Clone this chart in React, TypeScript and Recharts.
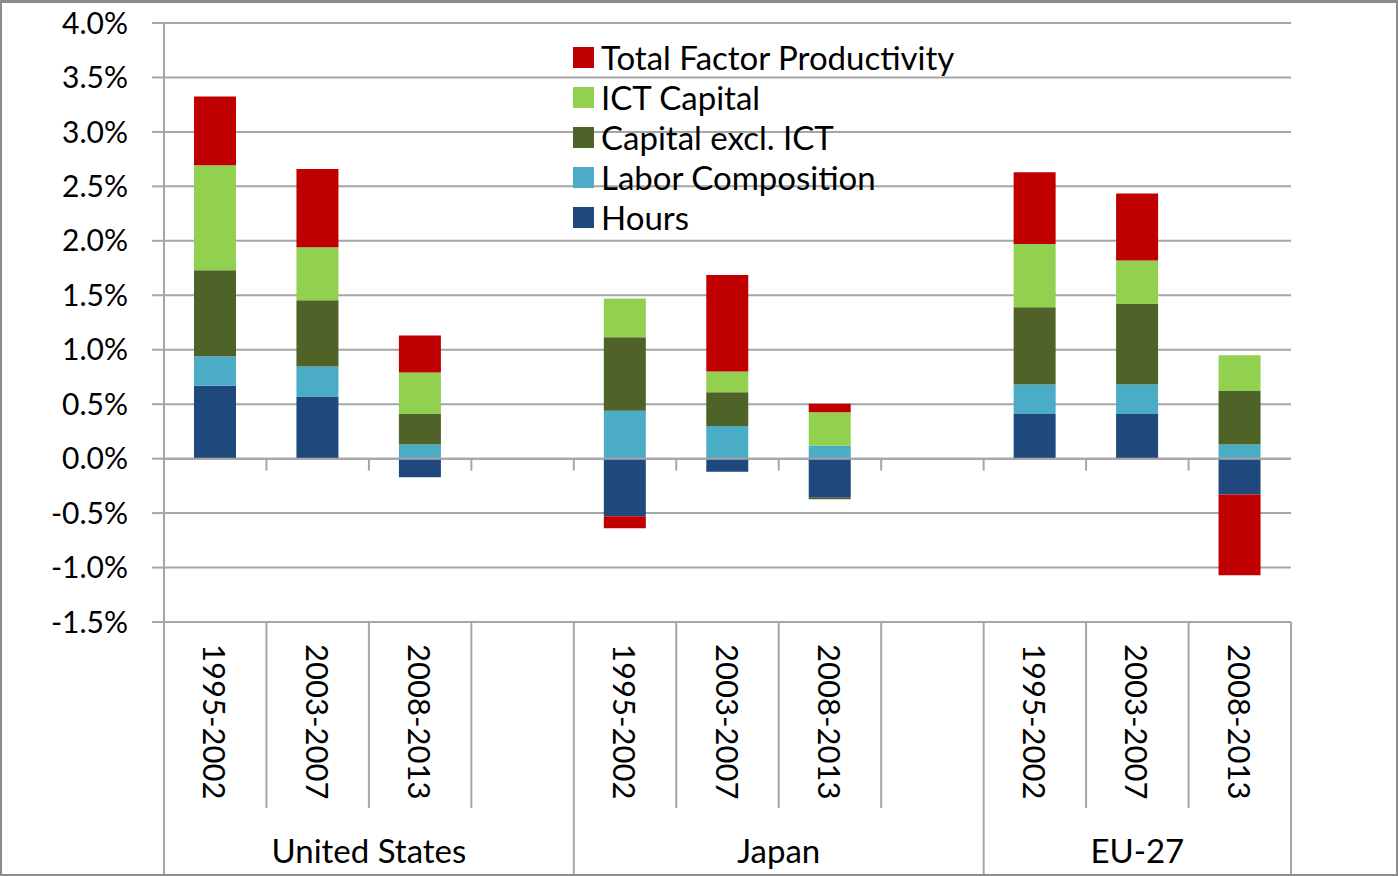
import React from 'react';
import { BarChart, Bar, XAxis, YAxis, CartesianGrid, Legend, ReferenceLine } from 'recharts';

// ---- data ----
const regions = ['United States', 'Japan', 'EU-27'];
const regionSlots = [
  [0, 3],
  [4, 7],
  [8, 10],
];
const periodLabels = [
  '1995-2002', '2003-2007', '2008-2013', '',
  '1995-2002', '2003-2007', '2008-2013', '',
  '1995-2002', '2003-2007', '2008-2013',
];
const hours = [0.67, 0.57, -0.17, null, -0.53, -0.12, -0.36, null, 0.41, 0.41, -0.33];
const laborComposition = [0.27, 0.275, 0.13, null, 0.44, 0.3, 0.12, null, 0.27, 0.27, 0.13];
const capitalExclICT = [0.79, 0.61, 0.28, null, 0.675, 0.31, -0.012, null, 0.71, 0.74, 0.49];
const ictCapital = [0.965, 0.485, 0.38, null, 0.355, 0.19, 0.305, null, 0.58, 0.4, 0.33];
const tfp = [0.63, 0.72, 0.34, null, -0.11, 0.885, 0.08, null, 0.66, 0.615, -0.74];
const yTicks = [-1.5, -1.0, -0.5, 0, 0.5, 1.0, 1.5, 2.0, 2.5, 3.0, 3.5, 4.0];
const legendOrder = ['tfp', 'ict', 'capital', 'labor', 'hours'];

const data = periodLabels.map((p, i) => ({
  key: `slot${i}`,
  period: p,
  hours: hours[i],
  labor: laborComposition[i],
  capital: capitalExclICT[i],
  ict: ictCapital[i],
  tfp: tfp[i],
}));

// ---- layout / style ----
const W = 1398;
const H = 876;
const MARGIN = { top: 23, right: 107, bottom: 0, left: 0 };
const YAXIS_W = 164;
const XAXIS_H = 254;
const PLOT_W = W - MARGIN.left - MARGIN.right - YAXIS_W;
const FONT = 'Lato, "Open Sans", sans-serif';
const GRID = '#a6a6a6';
const TEXT = '#000000';

const COLORS = {
  hours: '#1F497D',
  labor: '#4BACC6',
  capital: '#4F6228',
  ict: '#92D050',
  tfp: '#C00000',
};

const CategoryTick = (props: any) => {
  const { x, y, index } = props;
  const bw = PLOT_W / data.length;
  const label = periodLabels[index];
  const bottom = H - 1;
  const lines: any[] = [];
  const isGroupEnd = regionSlots.some((r) => r[1] === index);
  const isGroupStart = regionSlots.some((r) => r[0] === index);
  const rx = x + bw / 2;
  lines.push(
    <line key="r" x1={rx} x2={rx} y1={y} y2={isGroupEnd ? bottom : y + 186} stroke={GRID} strokeWidth={2} />
  );
  if (index === 0) {
    const lx = x - bw / 2;
    lines.push(<line key="l" x1={lx} x2={lx} y1={y} y2={bottom} stroke={GRID} strokeWidth={2} />);
  }
  let group: any = null;
  if (isGroupStart) {
    const gi = regionSlots.findIndex((r) => r[0] === index);
    const [s, e] = regionSlots[gi];
    group = (
      <text x={x + ((e - s) / 2) * bw} y={y + 241} textAnchor="middle" fontSize={33} fontFamily={FONT} fill={TEXT}>
        {regions[gi]}
      </text>
    );
  }
  return (
    <g>
      {lines}
      {label ? (
        <text
          transform={`translate(${x},${y + 22}) rotate(90)`}
          x={0}
          y={12}
          textAnchor="start"
          fontSize={31}
          fontFamily={FONT}
          fill={TEXT}
        >
          {label}
        </text>
      ) : null}
      {group}
    </g>
  );
};

const ZeroLine = (props: any) => {
  const { x1, x2, y1 } = props;
  if (x1 == null) return null;
  const n = data.length;
  const step = (x2 - x1) / n;
  const ticks = [];
  for (let i = 1; i < n; i++) {
    const tx = x1 + i * step;
    ticks.push(<line key={i} x1={tx} x2={tx} y1={y1} y2={y1 + 12} stroke={GRID} strokeWidth={2} />);
  }
  return (
    <g>
      <line x1={x1} x2={x2} y1={y1} y2={y1} stroke={GRID} strokeWidth={2} />
      {ticks}
    </g>
  );
};

const LegendContent = (props: any) => {
  const payload = [...(props.payload || [])].sort(
    (a: any, b: any) => legendOrder.indexOf(a.dataKey) - legendOrder.indexOf(b.dataKey)
  );
  return (
    <div style={{ fontFamily: FONT, fontSize: 33, color: TEXT }}>
      {payload.map((p: any) => (
        <div key={p.value} style={{ display: 'flex', alignItems: 'center', height: 40, whiteSpace: 'nowrap' }}>
          <span style={{ display: 'inline-block', width: 21, height: 21, background: p.color, marginRight: 7 }} />
          <span style={{ lineHeight: '40px' }}>{p.value}</span>
        </div>
      ))}
    </div>
  );
};

export default function App() {
  return (
    <div style={{ position: 'absolute', left: 0, top: 0, width: W, height: H, background: '#fff', fontFamily: FONT }}>
      <BarChart width={W} height={H} data={data} margin={MARGIN} stackOffset="sign" barSize={42}>
        <CartesianGrid vertical={false} stroke={GRID} strokeWidth={2} />
        <XAxis
          dataKey="key"
          interval={0}
          height={XAXIS_H}
          tickLine={false}
          tickSize={0}
          tickMargin={0}
          axisLine={{ stroke: GRID, strokeWidth: 2 }}
          tick={<CategoryTick />}
        />
        <YAxis
          type="number"
          domain={[-1.5, 4]}
          ticks={yTicks}
          interval={0}
          width={YAXIS_W}
          tickSize={12}
          tickMargin={24}
          axisLine={{ stroke: GRID, strokeWidth: 2 }}
          tickLine={{ stroke: GRID, strokeWidth: 2 }}
          tick={{ fontSize: 30, fontFamily: FONT, fill: TEXT }}
          tickFormatter={(v: number) => `${v.toFixed(1)}%`}
        />
        <Legend
          layout="vertical"
          align="center"
          verticalAlign="middle"
          content={<LegendContent />}
          wrapperStyle={{ left: 573, top: 37, width: 'auto' }}
        />
        <Bar dataKey="hours" name="Hours" stackId="a" fill={COLORS.hours} isAnimationActive={false} />
        <Bar dataKey="labor" name="Labor Composition" stackId="a" fill={COLORS.labor} isAnimationActive={false} />
        <Bar dataKey="capital" name="Capital excl. ICT" stackId="a" fill={COLORS.capital} isAnimationActive={false} />
        <Bar dataKey="ict" name="ICT Capital" stackId="a" fill={COLORS.ict} isAnimationActive={false} />
        <Bar dataKey="tfp" name="Total Factor Productivity" stackId="a" fill={COLORS.tfp} isAnimationActive={false} />
        <ReferenceLine y={0} shape={<ZeroLine />} />
      </BarChart>
      <div
        style={{
          position: 'absolute',
          left: 0,
          top: 0,
          width: W,
          height: H,
          boxSizing: 'border-box',
          border: '2px solid #8c8c8c',
          borderTopWidth: 3,
          pointerEvents: 'none',
        }}
      />
    </div>
  );
}
